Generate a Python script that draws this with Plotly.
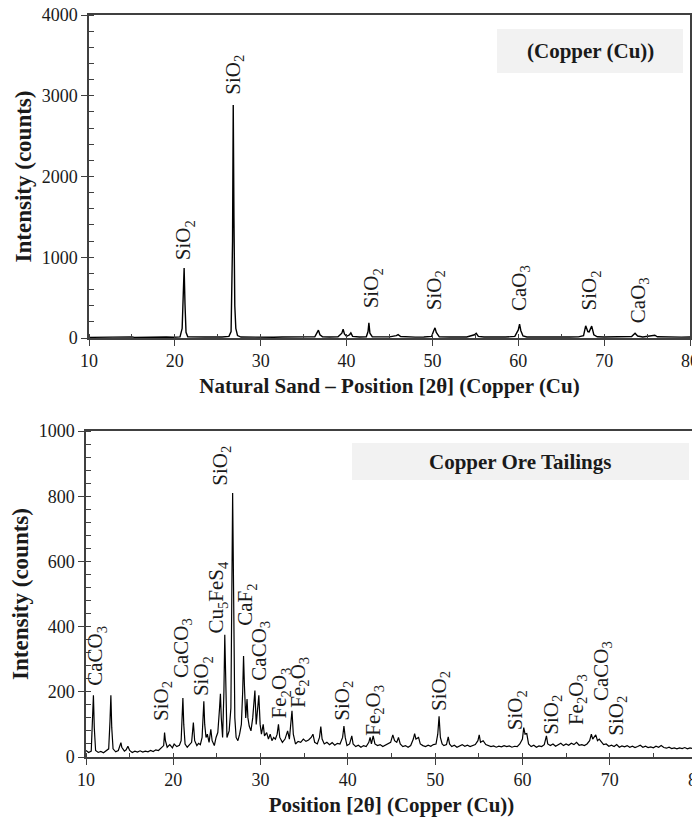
import plotly.graph_objects as go

# ---------------- Data: Natural sand (top panel) ----------------
sand_2theta = [10.0, 11.0, 12.0, 13.0, 14.0, 15.0, 15.3, 16.0, 17.0, 18.0, 19.0, 19.8, 20.6, 20.85, 21.0, 21.08, 21.18,
               21.3, 21.5, 22.5, 23.5, 24.5, 25.5, 26.3, 26.55, 26.72, 26.8, 26.88, 26.98, 27.1, 27.3, 27.7, 28.5,
               29.5, 30.5, 31.5, 32.5, 33.5, 34.5, 35.5, 36.3, 36.6, 36.72, 36.9, 37.2, 38.0, 39.0, 39.45, 39.6,
               39.75, 40.0, 40.35, 40.5, 40.7, 41.5, 42.3, 42.5, 42.6, 42.72, 43.0, 44.0, 45.0, 45.8, 46.0, 46.3,
               47.0, 48.0, 49.0, 49.9, 50.15, 50.3, 50.45, 50.8, 52.0, 53.0, 54.0, 54.9, 55.1, 55.35, 56.0, 57.5,
               58.5, 59.6, 60.0, 60.15, 60.3, 60.55, 61.0, 62.0, 63.0, 64.0, 65.0, 66.0, 67.0, 67.6, 67.85, 68.1,
               68.25, 68.55, 68.8, 69.2, 70.0, 71.0, 72.0, 73.2, 73.6, 73.9, 74.5, 75.5, 75.9, 76.2, 77.0, 78.0,
               79.0, 80.0]
sand_counts = [8, 10, 7, 12, 9, 14, 8, 10, 9, 11, 12, 10, 14, 120, 520, 866, 420,
               70, 15, 10, 12, 14, 12, 20, 80, 1200, 2884, 1500, 400, 120, 30, 12, 10,
               11, 9, 10, 12, 10, 12, 14, 15, 70, 97, 40, 14, 12, 15, 60, 109,
               50, 20, 40, 63, 20, 12, 15, 80, 189, 60, 14, 12, 14, 30, 42, 18,
               12, 11, 13, 20, 90, 126, 70, 15, 12, 11, 13, 40, 59, 20, 12, 14,
               12, 20, 100, 172, 90, 25, 12, 13, 11, 14, 12, 13, 14, 30, 151, 80,
               76, 147, 40, 15, 12, 11, 13, 18, 59, 25, 13, 22, 34, 15, 12, 14,
               11, 12]

sand_label_text = ["SiO<sub>2</sub>", "SiO<sub>2</sub>", "SiO<sub>2</sub>", "SiO<sub>2</sub>",
                   "CaO<sub>3</sub>", "SiO<sub>2</sub>", "CaO<sub>3</sub>"]
sand_label_x = [21.1, 26.8, 43.0, 50.3, 60.2, 68.4, 74.0]
sand_label_y = [943, 2990, 347, 320, 310, 322, 165]

# ---------------- Data: Copper ore tailings (bottom panel) ----------------
tail_2theta = [10.0, 10.3, 10.6, 10.75, 10.85, 10.95, 11.1, 11.4, 11.7, 12.0, 12.3, 12.6, 12.75, 12.85, 12.95, 13.1,
               13.4, 13.7, 14.0, 14.1, 14.4, 14.6, 14.8, 15.0, 15.3, 15.6, 15.9, 16.2, 16.5, 16.8, 17.1, 17.4,
               17.7, 18.0, 18.3, 18.6, 18.9, 19.0, 19.1, 19.3, 19.6, 19.9, 20.1, 20.4, 20.7, 20.9, 21.0, 21.1,
               21.2, 21.35, 21.6, 21.9, 22.1, 22.3, 22.45, 22.7, 22.9, 23.1, 23.3, 23.5, 23.6, 23.75, 23.9, 24.1,
               24.3, 24.45, 24.7, 24.9, 25.1, 25.3, 25.4, 25.5, 25.65, 25.8, 25.9, 26.0, 26.15, 26.4, 26.6, 26.8,
               26.9, 27.05, 27.2, 27.4, 27.6, 27.8, 27.95, 28.05, 28.15, 28.3, 28.45, 28.55, 28.7, 28.9, 29.1,
               29.35, 29.5, 29.65, 29.8, 29.95, 30.1, 30.3, 30.45, 30.7, 30.9, 31.1, 31.3, 31.5, 31.7, 31.9,
               32.05, 32.2, 32.5, 32.8, 33.1, 33.3, 33.5, 33.6, 33.75, 34.0, 34.3, 34.6, 34.9, 35.2, 35.5, 35.8,
               36.0, 36.2, 36.5, 36.75, 36.9, 37.05, 37.3, 37.6, 37.9, 38.2, 38.5, 38.8, 39.1, 39.4, 39.55, 39.7,
               39.9, 40.2, 40.45, 40.6, 40.9, 41.2, 41.5, 41.8, 42.1, 42.4, 42.55, 42.7, 42.9, 43.1, 43.4, 43.7,
               44.0, 44.3, 44.6, 44.9, 45.15, 45.35, 45.6, 45.8, 46.0, 46.3, 46.6, 46.9, 47.2, 47.5, 47.65, 47.8,
               48.1, 48.3, 48.6, 48.9, 49.2, 49.5, 49.8, 50.1, 50.3, 50.45, 50.6, 50.8, 51.0, 51.3, 51.5, 51.65,
               51.9, 52.2, 52.5, 52.8, 53.1, 53.4, 53.7, 54.0, 54.3, 54.6, 54.9, 55.05, 55.2, 55.5, 55.8, 56.1,
               56.4, 56.7, 57.0, 57.3, 57.6, 57.9, 58.2, 58.5, 58.8, 59.1, 59.4, 59.7, 60.0, 60.15, 60.3, 60.5,
               60.7, 61.0, 61.3, 61.6, 61.9, 62.2, 62.5, 62.75, 62.9, 63.2, 63.5, 63.8, 64.1, 64.4, 64.7, 65.0,
               65.3, 65.6, 65.9, 66.2, 66.5, 66.8, 67.1, 67.4, 67.7, 67.9, 68.05, 68.2, 68.4, 68.6, 68.8, 69.0,
               69.3, 69.6, 69.9, 70.2, 70.5, 70.8, 71.1, 71.4, 71.7, 72.0, 72.3, 72.6, 72.9, 73.2, 73.5, 73.8,
               74.1, 74.4, 74.7, 75.0, 75.3, 75.6, 75.9, 76.2, 76.5, 76.8, 77.1, 77.4, 77.7, 78.0, 78.3, 78.6,
               78.9, 79.2, 79.5, 79.8, 80.0]
tail_counts = [20, 14, 18, 100, 189, 90, 20, 14, 17, 13, 18, 25, 110, 189, 90, 25,
               16, 20, 44, 30, 18, 22, 33, 20, 14, 18, 15, 19, 15, 18, 16, 20,
               17, 22, 20, 28, 35, 75, 50, 30, 38, 28, 40, 32, 36, 50, 140, 181,
               100, 40, 30, 38, 45, 106, 50, 35, 42, 38, 60, 171, 100, 60, 70, 45,
               85, 50, 35, 60, 75, 150, 194, 120, 60, 200, 375, 250, 60, 80, 150, 810,
               500, 120, 60, 50, 70, 100, 200, 310, 220, 120, 178, 120, 95, 80, 120,
               204, 100, 150, 189, 100, 70, 100, 65, 75, 55, 70, 50, 60, 55, 70,
               100, 60, 45, 55, 80, 55, 100, 142, 70, 40, 48, 45, 55, 48, 52, 60,
               70, 45, 40, 60, 93, 55, 40, 45, 38, 44, 36, 42, 40, 60, 95, 60,
               35, 40, 65, 40, 32, 36, 30, 35, 32, 45, 60, 40, 65, 40, 35, 38,
               32, 36, 40, 45, 68, 50, 45, 60, 40, 32, 35, 30, 35, 55, 72, 55,
               60, 40, 35, 32, 36, 33, 38, 40, 70, 125, 60, 40, 35, 38, 62, 40,
               32, 36, 30, 34, 38, 33, 36, 32, 35, 38, 50, 68, 45, 50, 38, 35,
               32, 34, 30, 33, 31, 35, 32, 34, 30, 33, 32, 40, 55, 90, 70, 72,
               40, 32, 36, 30, 34, 32, 38, 65, 40, 35, 40, 33, 38, 42, 35, 40,
               36, 42, 38, 45, 36, 38, 35, 40, 50, 70, 55, 62, 68, 50, 55, 48,
               38, 40, 33, 36, 32, 38, 30, 34, 31, 35, 30, 33, 29, 32, 36, 30,
               33, 29, 31, 28, 33, 30, 35, 29, 27, 30, 26, 28, 25, 28, 26, 29,
               25, 28, 26, 30, 28]

tail_label_text = ["CaCO<sub>3</sub>", "SiO<sub>2</sub>", "CaCO<sub>3</sub>", "SiO<sub>2</sub>",
                   "Cu<sub>5</sub>FeS<sub>4</sub>", "SiO<sub>2</sub>", "CaF<sub>2</sub>", "CaCO<sub>3</sub>",
                   "Fe<sub>2</sub>O<sub>3</sub>", "Fe<sub>2</sub>O<sub>3</sub>", "SiO<sub>2</sub>",
                   "Fe<sub>2</sub>O<sub>3</sub>", "SiO<sub>2</sub>", "SiO<sub>2</sub>", "SiO<sub>2</sub>",
                   "Fe<sub>2</sub>O<sub>3</sub>", "CaCO<sub>3</sub>", "SiO<sub>2</sub>"]
tail_label_x = [11.2, 18.7, 21.0, 23.3, 25.0, 25.5, 28.4, 29.9, 32.2, 34.3, 39.4,
                42.9, 50.55, 59.3, 63.35, 66.2, 69.1, 70.8]
tail_label_y = [214, 104, 236, 181, 374, 827, 395, 227, 113, 144, 104,
                58, 135, 77, 61, 92, 165, 58]

# ---------------- Figure ----------------
SERIF = "Liberation Serif, Times New Roman, serif"
INK = "#1a1a1a"
AXC = "#404040"

fig = go.Figure()
fig.add_trace(go.Scatter(x=sand_2theta, y=sand_counts, mode="lines",
                         line=dict(color="black", width=1.4), xaxis="x", yaxis="y",
                         showlegend=False, hoverinfo="x+y"))
fig.add_trace(go.Scatter(x=tail_2theta, y=tail_counts, mode="lines",
                         line=dict(color="black", width=1.2), xaxis="x2", yaxis="y2",
                         showlegend=False, hoverinfo="x+y"))

W, H = 700, 825
OFF = 8  # the page body adds an 8px margin; place everything 8px up/left to compensate


def px_x(p):
    return (p - OFF) / W


def px_y(p):
    return 1 - (p - OFF) / H


def xdom(a, b):
    return [px_x(a), px_x(b)]


def ydom(top, bottom):
    return [px_y(bottom), px_y(top)]


common_x = dict(range=[10, 80], dtick=10, tick0=10, showline=True, mirror=True, linecolor=AXC,
                linewidth=1.5, ticks="outside", ticklen=6, tickcolor=AXC, tickwidth=1,
                showgrid=False, zeroline=False, automargin=False, ticklabeloverflow="allow",
                minor=dict(ticks="inside", dtick=5, ticklen=4, tickcolor=AXC, showgrid=False),
                tickfont=dict(family=SERIF, size=18, color=INK))
common_y = dict(showline=True, mirror=True, linecolor=AXC, linewidth=1.5, ticks="outside",
                ticklen=6, tickcolor=AXC, tickwidth=1, showgrid=False, zeroline=False,
                automargin=False, ticklabeloverflow="allow",
                tickfont=dict(family=SERIF, size=18, color=INK))

annotations = []
for t, x, y in zip(sand_label_text, sand_label_x, sand_label_y):
    annotations.append(dict(text=t, x=x, y=y, xref="x", yref="y", showarrow=False,
                            textangle=-90, xanchor="center", yanchor="bottom",
                            font=dict(family=SERIF, size=21, color=INK)))
for t, x, y in zip(tail_label_text, tail_label_x, tail_label_y):
    annotations.append(dict(text=t, x=x, y=y, xref="x2", yref="y2", showarrow=False,
                            textangle=-90, xanchor="center", yanchor="bottom",
                            font=dict(family=SERIF, size=21, color=INK)))

# panel captions
annotations.append(dict(text="<b>(Copper (Cu))</b>", x=px_x(590), y=px_y(51), xref="paper", yref="paper",
                        showarrow=False, xanchor="center", yanchor="middle",
                        font=dict(family=SERIF, size=21, color=INK)))
annotations.append(dict(text="<b>Copper Ore Tailings</b>", x=px_x(520), y=px_y(461.5), xref="paper",
                        yref="paper", showarrow=False, xanchor="center", yanchor="middle",
                        font=dict(family=SERIF, size=21, color=INK)))

shapes = [
    dict(type="rect", xref="paper", yref="paper", x0=px_x(497), x1=px_x(683), y0=px_y(73), y1=px_y(29),
         fillcolor="#f2f2f2", line=dict(width=0), layer="below"),
    dict(type="rect", xref="paper", yref="paper", x0=px_x(352), x1=px_x(689), y0=px_y(480), y1=px_y(443),
         fillcolor="#f2f2f2", line=dict(width=0), layer="below"),
]

fig.update_layout(
    width=W, height=H, autosize=False,
    margin=dict(l=0, r=0, t=0, b=0),
    paper_bgcolor="white", plot_bgcolor="rgba(0,0,0,0)",
    font=dict(family=SERIF, color=INK),
    xaxis=dict(common_x, domain=xdom(89, 690), anchor="y",
               title=dict(text="<b>Natural Sand – Position [2θ] (Copper (Cu)</b>",
                          font=dict(family=SERIF, size=21, color=INK), standoff=8)),
    yaxis=dict(common_y, domain=ydom(15, 338), anchor="x", range=[0, 4000], dtick=1000,
               minor=dict(ticks="inside", dtick=200, ticklen=5, tickcolor=AXC, showgrid=False),
               title=dict(text="<b>Intensity (counts)</b>",
                          font=dict(family=SERIF, size=23, color=INK), standoff=4)),
    xaxis2=dict(common_x, domain=xdom(86, 697), anchor="y2",
                title=dict(text="<b>Position [2θ] (Copper (Cu))</b>",
                           font=dict(family=SERIF, size=21, color=INK), standoff=8)),
    yaxis2=dict(common_y, domain=ydom(431, 757), anchor="x2", range=[0, 1000], dtick=200,
                minor=dict(ticks="inside", dtick=40, ticklen=5, tickcolor=AXC, showgrid=False),
                title=dict(text="<b>Intensity (counts)</b>",
                           font=dict(family=SERIF, size=23, color=INK), standoff=4)),
    annotations=annotations,
    shapes=shapes,
)

fig.write_html("out.html")
